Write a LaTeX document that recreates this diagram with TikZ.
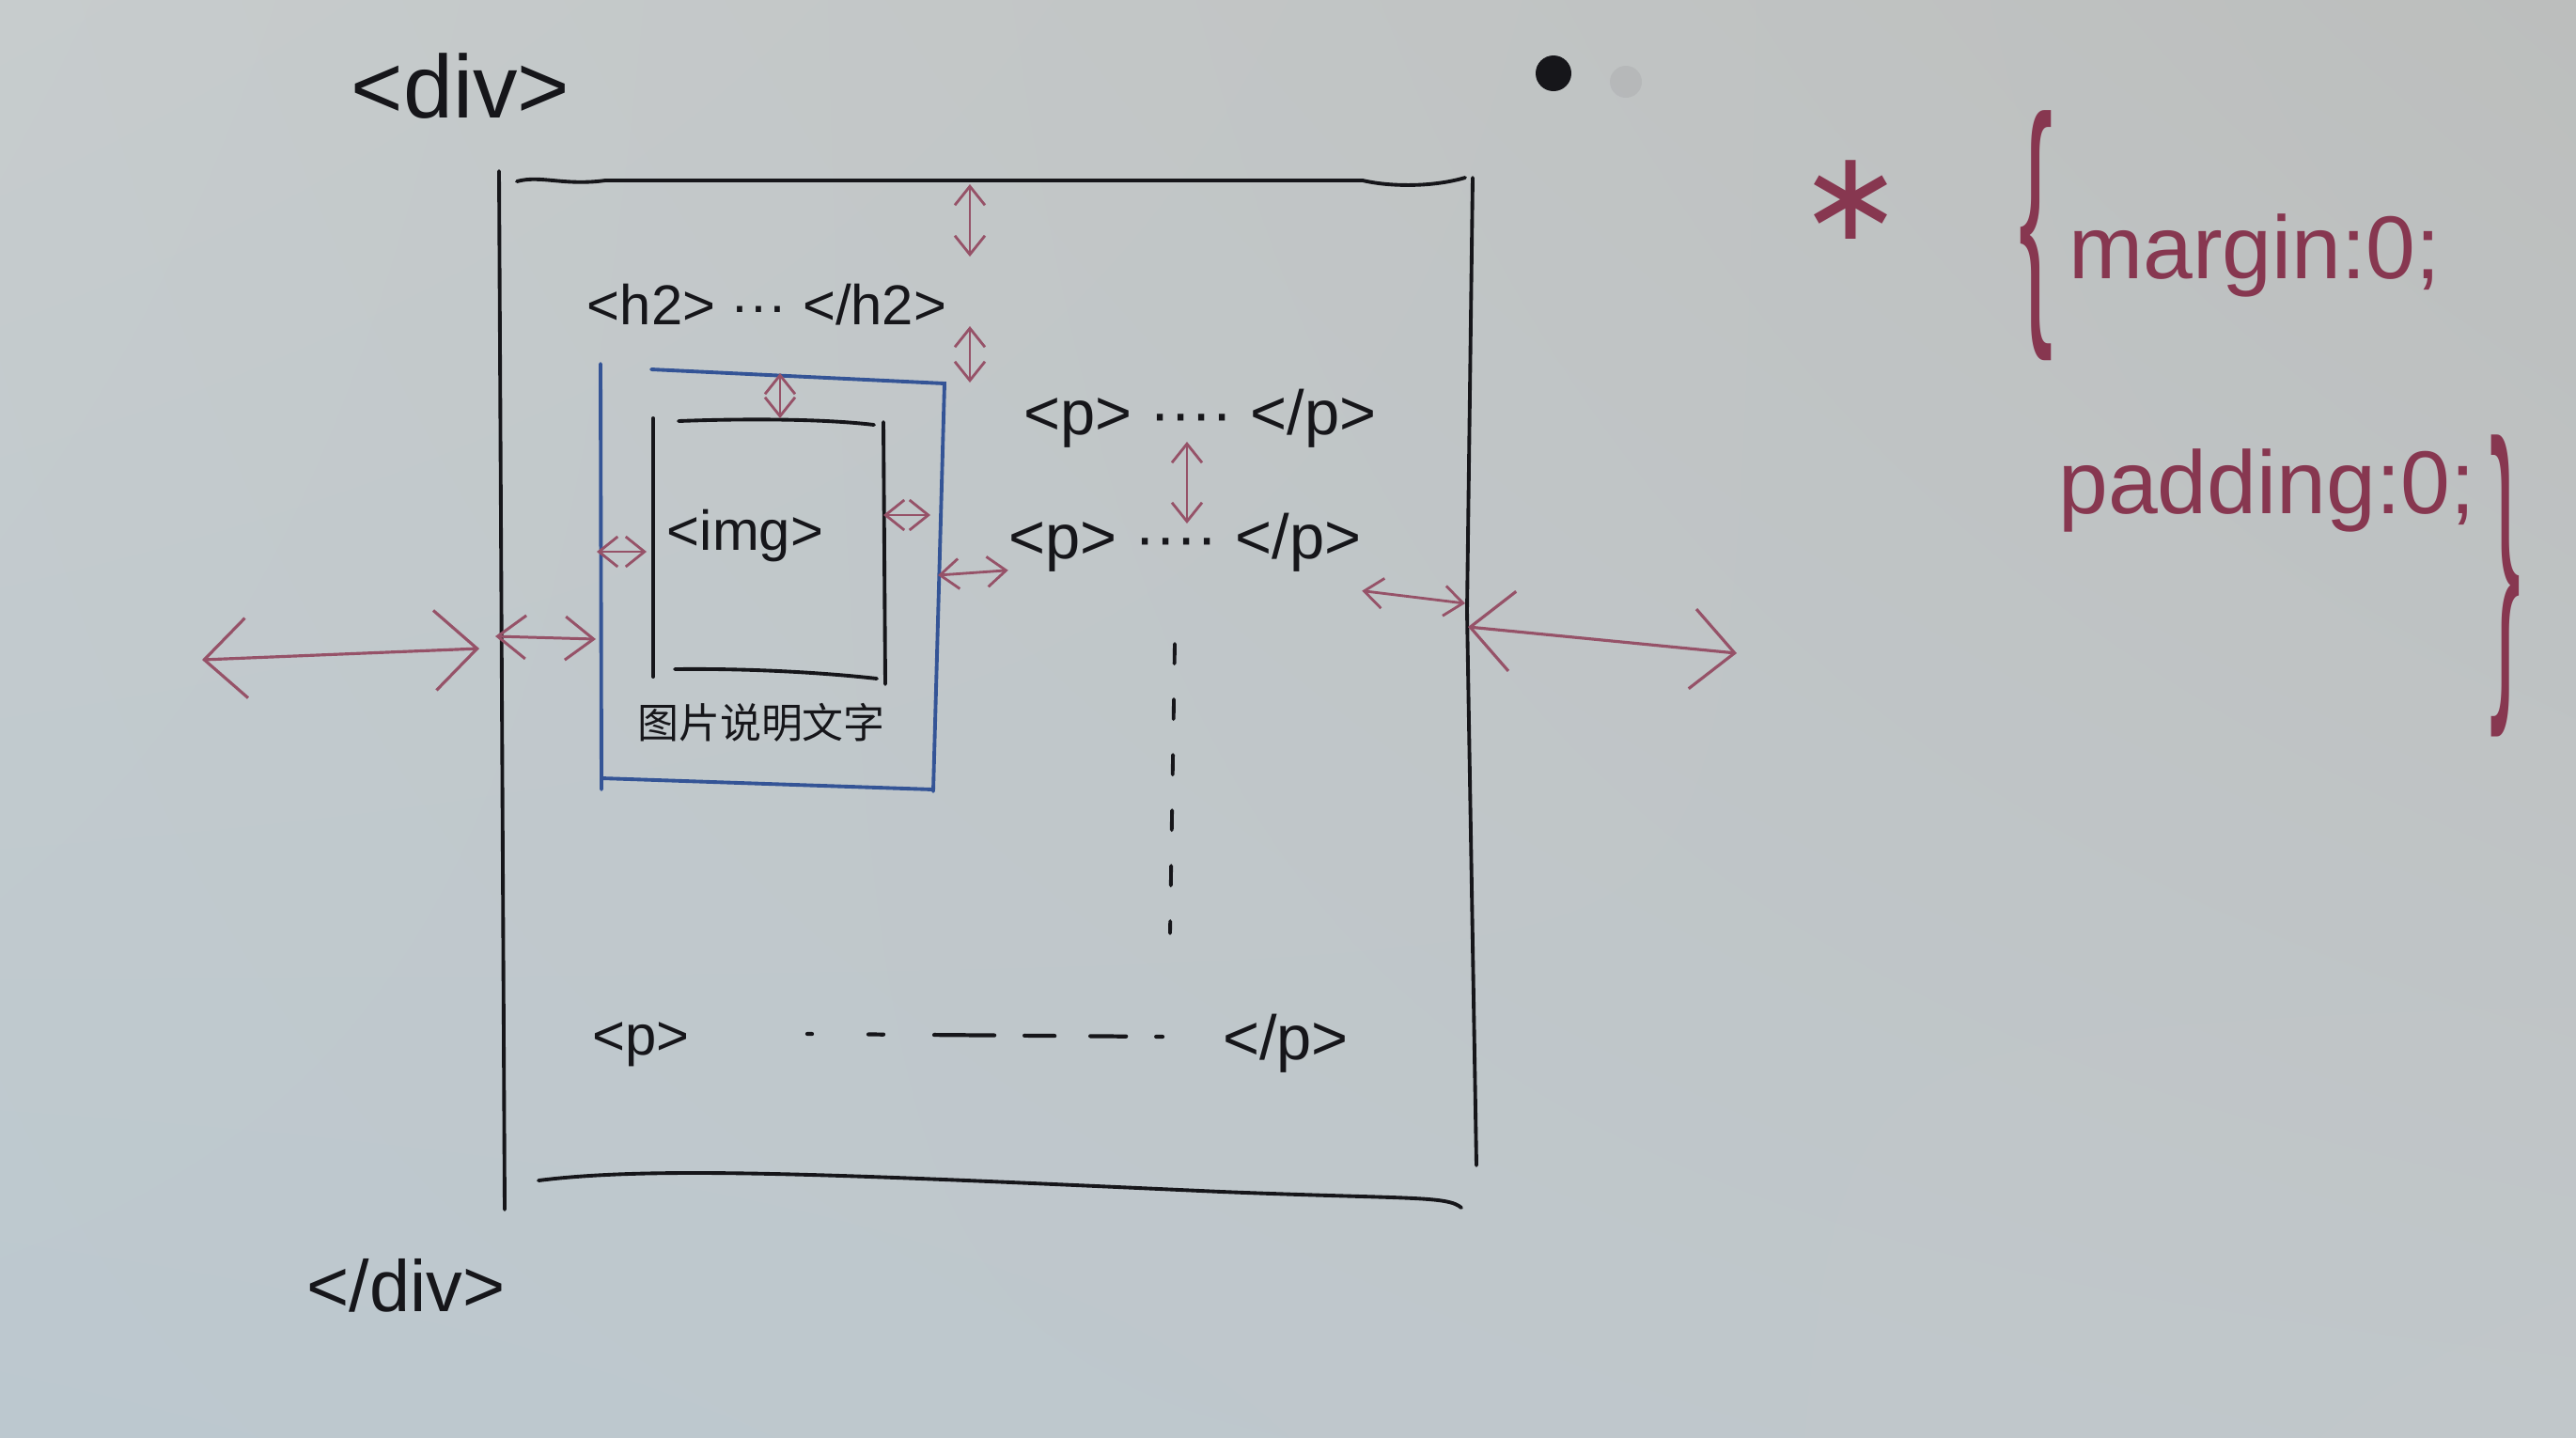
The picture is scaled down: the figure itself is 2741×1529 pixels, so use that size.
\documentclass[tikz,border=0pt]{standalone}
\usepackage{fontspec}
\setmainfont{Liberation Sans}
\newfontfamily\cjk{Noto Sans CJK SC}
\newfontfamily\symb{DejaVu Sans}
\usetikzlibrary{
    arrows.meta,
    shadings,
    positioning,
    calc
}
\definecolor{boardUL}{RGB}{199,204,205}
\definecolor{boardUR}{RGB}{188,190,189}
\definecolor{boardLL}{RGB}{188,200,207}
\definecolor{boardLR}{RGB}{193,199,202}
\definecolor{pen}{RGB}{22,22,26}
\definecolor{redpen}{RGB}{150,82,104}
\definecolor{rulepen}{RGB}{135,55,80}
\definecolor{bluepen}{RGB}{52,84,150}
\tikzset{
    boxline/.style={pen, line width=1.1pt, line cap=round},
    figline/.style={bluepen, line width=1.1pt, line cap=round},
    gap/.style={<->, redpen, line width=0.8pt, line cap=round,
        >={Straight Barb[length=2mm, width=3.2mm]}},
    midgap/.style={<->, redpen, line width=0.85pt, line cap=round,
        >={Straight Barb[length=3mm, width=4.6mm]}},
    widegap/.style={<->, redpen, line width=0.9pt, line cap=round,
        >={Straight Barb[length=4.5mm, width=8.5mm]}},
    tag/.style={text=pen, inner sep=0pt, anchor=base},
    rule/.style={text=rulepen, inner sep=0pt, anchor=base}
}

\begin{document}
\begin{tikzpicture}[x=0.01cm, y=-0.01cm]
    \useasboundingbox (0,0) rectangle (2741,1529);
    \shade[upper left=boardUL, upper right=boardUR, lower left=boardLL, lower right=boardLR]
        (0,0) rectangle (2741,1529);

    % magnets on the board
    \fill[pen] (1653,78) circle[radius=19];
    \fill[pen, opacity=0.06] (1730,87) circle[radius=17];

    % outer div
    \coordinate (divNW) at (531,182);
    \coordinate (divSW) at (537,1287);
    \coordinate (divNE) at (1567,189);
    \coordinate (divE) at (1561,650);
    \coordinate (divSE) at (1571,1240);
    \draw[boxline] (divNW) -- (divSW);
    \draw[boxline] (divNE) -- (divE) -- (divSE);
    \draw[boxline] (550,193) .. controls (575,186) and (600,198) .. (644,192)
        -- (1450,192) .. controls (1480,199) and (1525,199) .. (1559,189);
    \draw[boxline] (573,1256) .. controls (700,1240) and (900,1250) .. (1300,1268)
        .. controls (1500,1276) and (1540,1272) .. (1555,1285);

    \node[tag, font=\fontsize{27}{30}\selectfont] (divOpen) at (490,125) {<div>};
    \node[tag, font=\fontsize{22}{24}\selectfont] (divClose) at (432,1395) {</div>};

    % figure box
    \coordinate (figNW) at (639,387);
    \coordinate (figSW) at (640,840);
    \coordinate (figNE) at (1005,408);
    \coordinate (figSE) at (993,842);
    \draw[figline] (figNW) -- (figSW);
    \draw[figline] (693,393) -- (figNE) -- (figSE);
    \draw[figline] (640,828) -- (993,840);

    % img box
    \coordinate (imgNW) at (695,445);
    \coordinate (imgSW) at (695,720);
    \coordinate (imgNE) at (940,449);
    \coordinate (imgSE) at (942,728);
    \draw[boxline] (imgNW) -- (imgSW);
    \draw[boxline] (imgNE) -- (imgSE);
    \draw[boxline] (722,448) .. controls (800,445) and (880,446) .. (930,452);
    \draw[boxline] (718,712) .. controls (800,711) and (880,716) .. (933,722);

    \node[tag, font=\fontsize{17}{19}\selectfont] (img) at (793,585) {<img>};
    \node[tag, font=\cjk\fontsize{12.5}{14}\selectfont] (cap) at (810,785) {图片说明文字};

    % text blocks
    \node[tag, font=\fontsize{17}{19}\selectfont] (h2) at (816,345) {<h2> ··· </h2>};
    \node[tag, font=\fontsize{19}{21}\selectfont] (p1) at (1277,462) {<p> ···· </p>};
    \node[tag, font=\fontsize{19}{21}\selectfont] (p2) at (1261,594) {<p> ···· </p>};
    \node[tag, font=\fontsize{17}{19}\selectfont] (pL) at (682,1122) {<p>};
    \node[tag, font=\fontsize{19}{21}\selectfont] (pR) at (1368,1127) {</p>};

    \coordinate (dotsA) at (859,1100);
    \coordinate (dotsB) at (1237,1103);
    \draw[pen, line width=1.2pt, line cap=round, dash pattern=on 0.05cm off 0.6cm on 0.16cm off 0.54cm on 0.64cm off 0.32cm on 0.32cm off 0.38cm on 0.38cm off 0.32cm on 0.07cm]
        (dotsA) -- (dotsB);
    \coordinate (moreA) at (1250,685);
    \coordinate (moreB) at (1245,993);
    \draw[pen, line width=1.1pt, line cap=round, dash pattern=on 0.21cm off 0.38cm] (moreA) -- (moreB);

    % margins and paddings
    \coordinate (outL) at (215,702);
    \coordinate (outR) at (1848,695);
    \draw[widegap] (outL) -- (510,690);
    \draw[widegap] (1562,667) -- (outR);
    \draw[midgap] (527,677) -- (634,680);
    \draw[gap] (1032,196) -- (1032,273);
    \draw[gap] (1032,347) -- (1032,407);
    \draw[gap] (830,397) -- (830,445);
    \draw[gap] (635,587) -- (688,587);
    \draw[gap] (940,548) -- (990,548);
    \draw[gap] (998,612) -- ([yshift=-0.3cm]p2.west);
    \draw[gap] ([yshift=-0.2cm]p2.south east) -- (1559,642);
    \draw[gap] (1263,470) -- (1263,557);

    % reset rule
    \node[text=rulepen, inner sep=0pt, anchor=north] (star) at (1969,170)
        {\symb\fontsize{38}{38}\selectfont ∗};
    \node[text=rulepen, inner sep=0pt] (braceL) at (2167,251)
        {\scalebox{1.1}[2.9]{\fontsize{28}{28}\selectfont\{}};
    \node[rule, font=\fontsize{27}{30}\selectfont] (margin) at (2399,296) {margin:0;};
    \node[rule, font=\fontsize{27}{30}\selectfont] (padding) at (2412,546) {padding:0;};
    \node[text=rulepen, inner sep=0pt] (braceR) at (2666,623)
        {\scalebox{1}[3.5]{\fontsize{28}{28}\selectfont\}}};
\end{tikzpicture}
\end{document}
